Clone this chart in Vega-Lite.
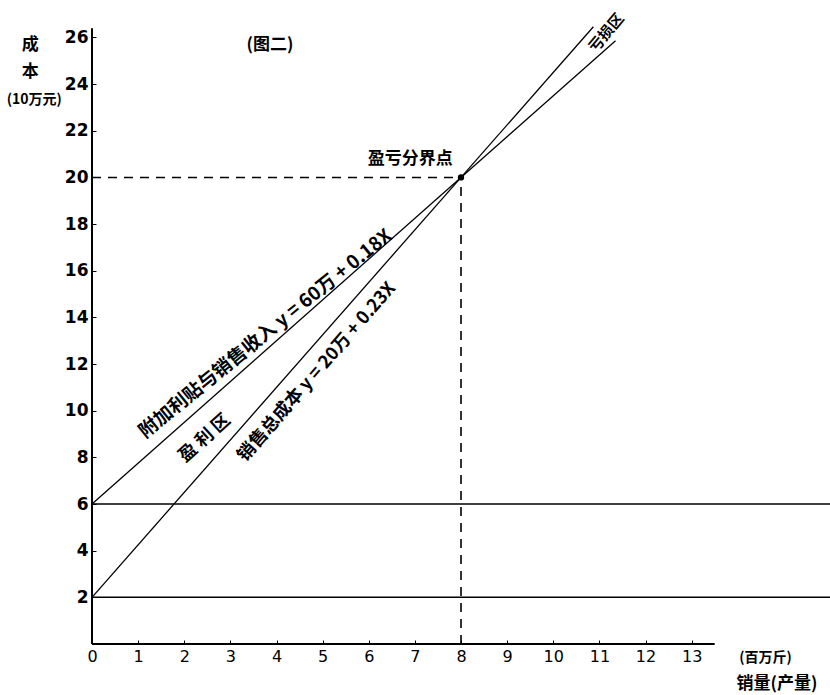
{
  "$schema": "https://vega.github.io/schema/vega-lite/v6.json",
  "width": 738,
  "height": 642,
  "autosize": {"type": "none"},
  "padding": {"left": 92, "top": 2, "right": 0, "bottom": 51},
  "background": "white",
  "config": {"view": {"stroke": null}, "font": "Noto Sans CJK SC"},
  "datasets": {
    "axes": [
      {"x": 0, "y": 0, "x2": 13.5, "y2": 0},
      {"x": 0, "y": 0, "x2": 0, "y2": 26.4}
    ],
    "levels": [
      {"x": 0, "y": 6, "x2": 16, "y2": 6},
      {"x": 0, "y": 2, "x2": 16, "y2": 2}
    ],
    "dashed": [
      {"x": 0, "y": 20, "x2": 8, "y2": 20},
      {"x": 8, "y": 0, "x2": 8, "y2": 20}
    ],
    "lines": [
      {"series": "销售总成本", "x": 0, "y": 2},
      {"series": "销售总成本", "x": 10.87, "y": 26.46},
      {"series": "附加利贴与销售收入", "x": 0, "y": 6},
      {"series": "附加利贴与销售收入", "x": 11.35, "y": 25.86}
    ],
    "breakeven": [{"x": 8, "y": 20}],
    "flat": [
      {"label": "(图二)", "x": 3.86, "y": 25.66},
      {"label": "盈亏分界点", "x": 6.9, "y": 20.8},
      {"label": "成", "x": -1.34, "y": 25.66},
      {"label": "本", "x": -1.34, "y": 24.5},
      {"label": "销量(产量)", "x": 14.85, "y": -1.7}
    ],
    "small": [
      {"label": "(10万元)", "x": -1.25, "y": 23.3},
      {"label": "(百万斤)", "x": 14.6, "y": -0.6}
    ],
    "rev": [{"label": "附加利贴与销售收入 y = 60万 + 0.18X", "x": 3.76, "y": 13.3}],
    "profit": [{"label": "盈  利  区", "x": 2.45, "y": 8.81}],
    "cost": [{"label": "销售总成本 y = 20万 + 0.23X", "x": 4.88, "y": 11.65}],
    "loss": [{"label": "亏损区", "x": 11.15, "y": 26.2}]
  },
  "encoding": {
    "x": {
      "field": "x", "type": "quantitative",
      "scale": {"domain": [0, 16], "nice": false, "zero": false},
      "axis": {
        "values": [0,1,2,3,4,5,6,7,8,9,10,11,12,13],
        "domain": false, "grid": false, "ticks": true, "tickSize": -4,
        "tickColor": "black", "labelColor": "black", "labelFontSize": 16,
        "labelFont": "DejaVu Sans", "labelPadding": 8, "labelFlush": false, "title": null
      }
    },
    "y": {
      "field": "y", "type": "quantitative",
      "scale": {"domain": [0, 27.52], "nice": false, "zero": false},
      "axis": {
        "values": [2,4,6,8,10,12,14,16,18,20,22,24,26],
        "domain": false, "grid": false, "ticks": true, "tickSize": -4,
        "tickColor": "black", "labelColor": "black", "labelFontSize": 17,
        "labelFont": "DejaVu Sans", "labelFontWeight": "bold", "labelPadding": 8,
        "labelFlush": false, "title": null
      }
    }
  },
  "layer": [
    {
      "data": {"name": "axes"},
      "mark": {"type": "rule", "color": "black", "strokeWidth": 2},
      "encoding": {"x2": {"field": "x2"}, "y2": {"field": "y2"}}
    },
    {
      "data": {"name": "levels"},
      "mark": {"type": "rule", "color": "black", "strokeWidth": 1.5},
      "encoding": {"x2": {"field": "x2"}, "y2": {"field": "y2"}}
    },
    {
      "data": {"name": "dashed"},
      "mark": {"type": "rule", "color": "black", "strokeWidth": 1.6, "strokeDash": [9, 7]},
      "encoding": {"x2": {"field": "x2"}, "y2": {"field": "y2"}}
    },
    {
      "data": {"name": "lines"},
      "mark": {"type": "line", "color": "black", "strokeWidth": 1.3},
      "encoding": {"detail": {"field": "series"}}
    },
    {
      "data": {"name": "breakeven"},
      "mark": {"type": "point", "filled": true, "color": "black", "size": 40, "opacity": 1}
    },
    {
      "data": {"name": "flat"},
      "mark": {"type": "text", "fontSize": 17, "fontWeight": "bold", "color": "black"},
      "encoding": {"text": {"field": "label"}}
    },
    {
      "data": {"name": "small"},
      "mark": {"type": "text", "fontSize": 14, "fontWeight": "bold", "color": "black"},
      "encoding": {"text": {"field": "label"}}
    },
    {
      "data": {"name": "rev"},
      "mark": {"type": "text", "fontSize": 19, "fontWeight": "bold", "color": "black", "angle": 321},
      "encoding": {"text": {"field": "label"}}
    },
    {
      "data": {"name": "profit"},
      "mark": {"type": "text", "fontSize": 18, "fontWeight": "bold", "color": "black", "angle": 318},
      "encoding": {"text": {"field": "label"}}
    },
    {
      "data": {"name": "cost"},
      "mark": {"type": "text", "fontSize": 18, "fontWeight": "bold", "color": "black", "angle": 311},
      "encoding": {"text": {"field": "label"}}
    },
    {
      "data": {"name": "loss"},
      "mark": {"type": "text", "fontSize": 15, "fontWeight": "bold", "color": "black", "angle": 310},
      "encoding": {"text": {"field": "label"}}
    }
  ]
}
